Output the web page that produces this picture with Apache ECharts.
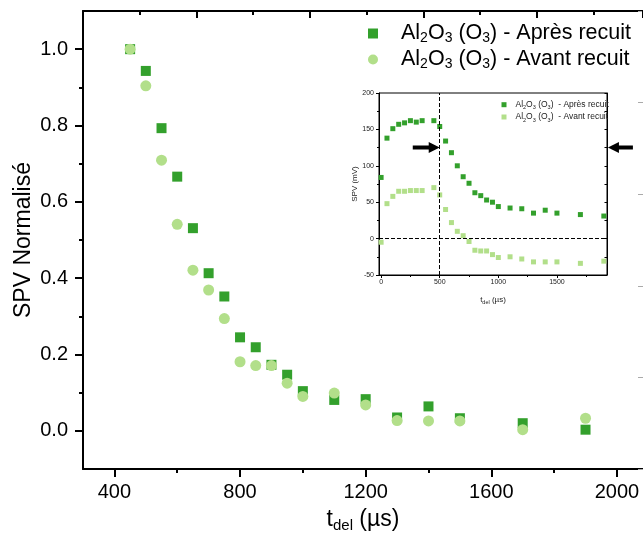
<!DOCTYPE html>
<html><head><meta charset="utf-8">
<script src="https://cdn.jsdelivr.net/npm/echarts@6/dist/echarts.min.js"></script>
<style>html,body{margin:0;padding:0;background:#fff}#c{width:643px;height:546px}</style>
</head><body><div id="c"></div>
<script>
// ---- Main plot data (normalised SPV) ----
const mainT = [450,500,550,600,650,700,750,800,850,900,950,1000,1100,1200,1300,1400,1500,1700,1900];
const mainApres = [1.0,0.943,0.793,0.666,0.531,0.413,0.352,0.245,0.219,0.173,0.147,0.104,0.081,0.083,0.035,0.064,0.033,0.020,0.003];
const mainAvant = [1.0,0.904,0.709,0.541,0.421,0.369,0.294,0.181,0.171,0.171,0.125,0.090,0.099,0.068,0.027,0.026,0.026,0.003,0.033];
const mainXTicks = [400,800,1200,1600,2000];
const mainXMinor = [600,1000,1400,1800];
const mainYTicks = [0,0.2,0.4,0.6,0.8,1.0];
const mainYMinor = [0.1,0.3,0.5,0.7,0.9];

// ---- Inset data (SPV in mV) ----
const insetT = [0,50,100,150,200,250,300,350,450,500,550,600,650,700,750,800,850,900,950,1000,1100,1200,1300,1400,1500,1700,1900];
const insetApres = [84,138,151,157,159,162,160,162,162,154,134,118,100,85,76,63,59,53,50,44,42,41,35,39,35,33,31];
const insetAvant = [-5,48,58,65,65,66,66,66,70,60,40,22,10,4,-4,-16,-17,-17,-22,-26,-25,-28,-32,-32,-32,-34,-31];
const insetXTicks = [0,500,1000,1500];
const insetXMinor = [250,750,1250,1750];

const nameApres = 'Al2O3 (O3) - Après recuit';
const nameAvant = 'Al2O3 (O3) - Avant recuit';
const insetNameApres = 'Al2O3 (O3)  - Après recuit';
const insetNameAvant = 'Al2O3 (O3)  - Avant recuit';

const DARK = '#33a02c', LIGHT = '#b2df8a';
const FONT = 'Liberation Sans';

function toRich(str, n, s) {
  return str.replace(/(\D+)|(\d+)/g, (m, a, b) => a ? '{' + n + '|' + a + '}' : '{' + s + '|' + b + '}');
}
function zip(xs, ys) { return xs.map((x, i) => [x, ys[i]]); }

const chart = echarts.init(document.getElementById('c'), null, {renderer: 'canvas'});

const blk = '#000';
const option = {
  animation: false,
  backgroundColor: '#fff',
  grid: [
    {left: 83, top: 11, width: 563, height: 458, containLabel: false},
    {left: 379, top: 93, width: 228, height: 182, show: true, backgroundColor: '#fff', borderColor: '#000', borderWidth: 1}
  ],
  xAxis: [
    {gridIndex: 0, type: 'value', position: 'bottom', min: 300, max: 2083,
      axisLine: {show: true, onZero: false, lineStyle: {color: blk, width: 2}},
      axisTick: {show: true, customValues: mainXTicks, length: 8, lineStyle: {color: blk, width: 2}},
      axisLabel: {show: true, customValues: mainXTicks, fontSize: 20, fontFamily: FONT, color: blk, margin: 13,
        formatter: v => String(v)},
      splitLine: {show: false},
      name: '{n|t}{s|del}{n| (µs)}', nameLocation: 'middle', nameGap: 38,
      nameTextStyle: {rich: {
        n: {fontSize: 23, fontFamily: FONT, color: blk, lineHeight: 26},
        s: {fontSize: 15, fontFamily: FONT, color: blk, lineHeight: 12, verticalAlign: 'bottom'}
      }}},
    {gridIndex: 0, type: 'value', position: 'bottom', min: 300, max: 2083,
      axisLine: {show: false, onZero: false},
      axisTick: {show: true, customValues: mainXMinor, length: 4, lineStyle: {color: blk, width: 2}},
      axisLabel: {show: false}, splitLine: {show: false}},
    {gridIndex: 0, type: 'value', position: 'top', min: 0, max: 563 / 57.05, interval: 2,
      axisLine: {show: true, onZero: false, lineStyle: {color: blk, width: 2}},
      axisTick: {show: true, inside: true, length: 7, lineStyle: {color: blk, width: 2}},
      minorTick: {show: true, splitNumber: 2, length: 4, lineStyle: {color: blk, width: 2}},
      axisLabel: {show: false}, splitLine: {show: false}},
    {gridIndex: 1, type: 'value', position: 'bottom', min: -18, max: 1927,
      axisLine: {show: true, onZero: false, lineStyle: {color: blk, width: 1}},
      axisTick: {show: true, customValues: insetXTicks, length: 3, lineStyle: {color: blk, width: 1}},
      axisLabel: {show: true, customValues: insetXTicks, fontSize: 7, fontFamily: FONT, color: '#222', margin: 4,
        formatter: v => String(v)},
      splitLine: {show: false},
      name: '{n|t}{s|del}{n| (µs)}', nameLocation: 'middle', nameGap: 20,
      nameTextStyle: {rich: {
        n: {fontSize: 8, fontFamily: FONT, color: '#222', lineHeight: 10},
        s: {fontSize: 5.5, fontFamily: FONT, color: '#222', lineHeight: 5, verticalAlign: 'bottom'}
      }}},
    {gridIndex: 1, type: 'value', position: 'bottom', min: -18, max: 1927,
      axisLine: {show: false, onZero: false},
      axisTick: {show: true, customValues: insetXMinor, length: 2, lineStyle: {color: blk, width: 1}},
      axisLabel: {show: false}, splitLine: {show: false}}
  ],
  yAxis: [
    {gridIndex: 0, type: 'value', position: 'left', min: -0.1, max: 1.1,
      axisLine: {show: true, onZero: false, lineStyle: {color: blk, width: 2}},
      axisTick: {show: true, customValues: mainYTicks, length: 8, lineStyle: {color: blk, width: 2}},
      axisLabel: {show: true, customValues: mainYTicks, fontSize: 20, fontFamily: FONT, color: blk, margin: 15,
        formatter: v => v.toFixed(1)},
      splitLine: {show: false},
      name: 'SPV Normalisé', nameLocation: 'middle', nameGap: 48, nameMoveOverlap: false,
      nameTextStyle: {fontSize: 23, fontFamily: FONT, color: blk}},
    {gridIndex: 0, type: 'value', position: 'left', min: -0.1, max: 1.1,
      axisLine: {show: false, onZero: false},
      axisTick: {show: true, customValues: mainYMinor, length: 4, lineStyle: {color: blk, width: 2}},
      axisLabel: {show: false}, splitLine: {show: false}},
    {gridIndex: 0, type: 'value', position: 'right', min: 0, max: 5, interval: 1,
      axisLine: {show: false, onZero: false},
      axisTick: {show: true, inside: true, length: 5, lineStyle: {color: '#aaa', width: 1}},
      axisLabel: {show: false}, splitLine: {show: false}},
    {gridIndex: 1, type: 'value', position: 'left', min: -50, max: 200, interval: 50,
      axisLine: {show: true, onZero: false, lineStyle: {color: blk, width: 1}},
      axisTick: {show: true, length: 3, lineStyle: {color: blk, width: 1}},
      minorTick: {show: true, splitNumber: 2, length: 2, lineStyle: {color: blk, width: 1}},
      axisLabel: {show: true, fontSize: 7, fontFamily: FONT, color: '#222', margin: 5},
      splitLine: {show: false},
      name: 'SPV (mV)', nameLocation: 'middle', nameGap: 20,
      nameTextStyle: {fontSize: 8, fontFamily: FONT, color: '#222'}},
    {gridIndex: 1, type: 'value', position: 'right', min: -50, max: 200, interval: 25,
      axisLine: {show: true, onZero: false, lineStyle: {color: blk, width: 1}},
      axisTick: {show: true, inside: true, length: 2.5, lineStyle: {color: blk, width: 1}},
      axisLabel: {show: false}, splitLine: {show: false}}
  ],
  legend: [
    {orient: 'vertical', left: 363, top: 17.5, itemWidth: 10, itemHeight: 10, itemGap: 3,
      selectedMode: false,
      data: [{name: nameApres, icon: 'rect'}, {name: nameAvant, icon: 'circle'}],
      formatter: nm => '{g|}' + toRich(nm, 'n', 's'),
      textStyle: {rich: {
        g: {width: 18},
        n: {fontSize: 21.5, fontFamily: FONT, color: blk, lineHeight: 24},
        s: {fontSize: 14, fontFamily: FONT, color: blk, lineHeight: 10, verticalAlign: 'bottom'}
      }}},
    {orient: 'vertical', left: 496.5, top: 93.7, itemWidth: 5, itemHeight: 5, itemGap: 0.3,
      selectedMode: false,
      data: [{name: insetNameApres, icon: 'rect'}, {name: insetNameAvant, icon: 'rect'}],
      formatter: nm => '{g|}' + toRich(nm, 'n', 's'),
      textStyle: {rich: {
        g: {width: 4},
        n: {fontSize: 8.5, fontFamily: FONT, color: '#222', lineHeight: 12},
        s: {fontSize: 5.5, fontFamily: FONT, color: '#222', lineHeight: 5, verticalAlign: 'bottom'}
      }}}
  ],
  series: [
    {name: nameApres, type: 'scatter', xAxisIndex: 0, yAxisIndex: 0, symbol: 'rect', symbolSize: 10,
      itemStyle: {color: DARK, opacity: 1}, data: zip(mainT, mainApres), z: 3},
    {name: nameAvant, type: 'scatter', xAxisIndex: 0, yAxisIndex: 0, symbol: 'circle', symbolSize: 11,
      itemStyle: {color: LIGHT, opacity: 1}, data: zip(mainT, mainAvant), z: 4},
    {name: insetNameApres, type: 'scatter', xAxisIndex: 3, yAxisIndex: 3, symbol: 'rect', symbolSize: 5,
      itemStyle: {color: DARK, opacity: 1}, data: zip(insetT, insetApres), z: 4,
      markLine: {silent: true, symbol: 'none', animation: false,
        label: {show: false},
        lineStyle: {color: blk, width: 1, type: [4, 2]},
        data: [{xAxis: 500}, {yAxis: 0}]}},
    {name: insetNameAvant, type: 'scatter', xAxisIndex: 3, yAxisIndex: 3, symbol: 'rect', symbolSize: 5,
      itemStyle: {color: LIGHT, opacity: 1}, data: zip(insetT, insetAvant), z: 4}
  ]
};
chart.setOption(option);

// ---- Arrow annotations in the inset (data units of the inset) ----
const arrowY = 125;
const arrows = [{from: 270, to: 500}, {from: 2148, to: 1935}];
const g = arrows.map(a => {
  const p0 = chart.convertToPixel({xAxisIndex: 3, yAxisIndex: 3}, [a.from, arrowY]);
  const p1 = chart.convertToPixel({xAxisIndex: 3, yAxisIndex: 3}, [a.to, arrowY]);
  const dir = p1[0] > p0[0] ? 1 : -1;
  const tx = p1[0], ty = p0[1], sx = p0[0], hl = 11 * dir;
  return {type: 'polygon', z: 100, silent: true,
    shape: {points: [[sx, ty - 2], [tx - hl, ty - 2], [tx - hl, ty - 5.5], [tx, ty], [tx - hl, ty + 5.5], [tx - hl, ty + 2], [sx, ty + 2]]},
    style: {fill: '#000'}};
});
chart.setOption({graphic: g});
</script>
</body></html>
